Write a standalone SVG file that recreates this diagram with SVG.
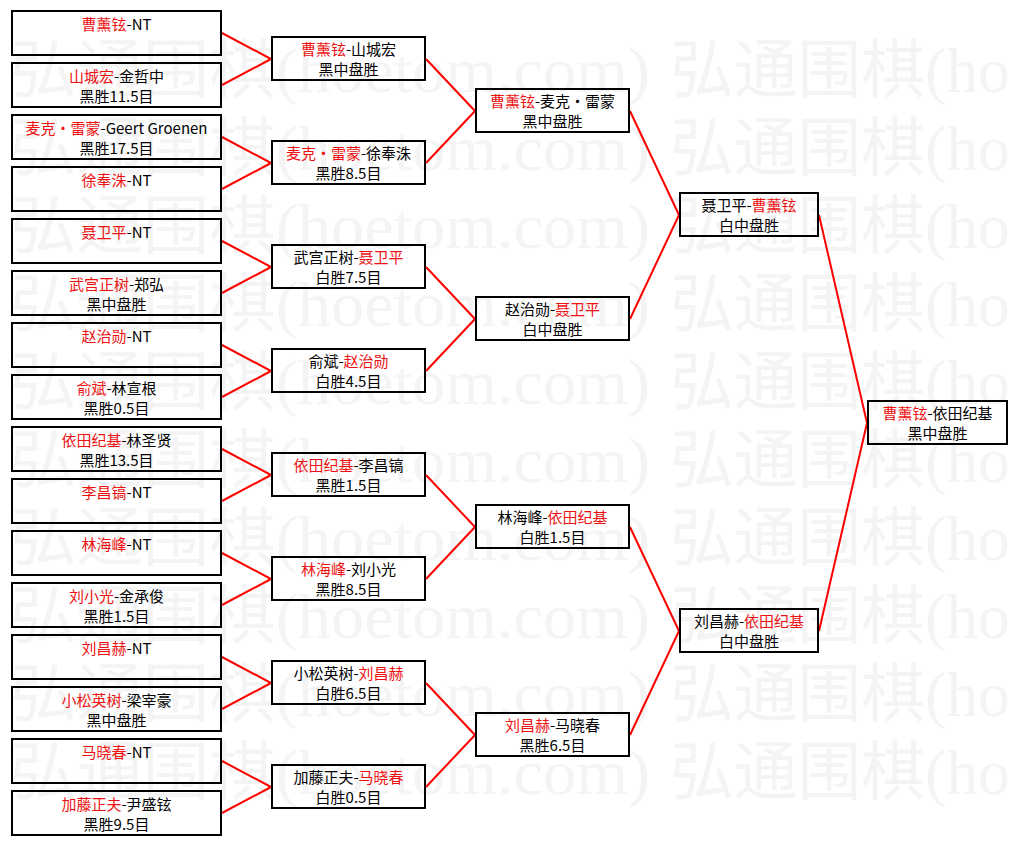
<svg xmlns="http://www.w3.org/2000/svg" width="1016" height="845" viewBox="0 0 1016 845">
<style>
.wm{font-family:"Liberation Serif","Noto Sans CJK SC",serif;font-size:64px;fill:#f4f4f4}
.b{fill:none;stroke:#000;stroke-width:2}
.t{font-family:"Noto Sans CJK SC",sans-serif;font-size:15px;fill:#000;text-anchor:middle}
.r{fill:#ee1111}
.c line{stroke:#ff0000;stroke-width:2}
</style>
<rect width="1016" height="845" fill="#fff"/>
<g id="watermark">
<text class="wm" x="10" y="92" textLength="640" lengthAdjust="spacingAndGlyphs">弘通围棋(hoetom.com)</text><text class="wm" x="670" y="92" textLength="340" lengthAdjust="spacingAndGlyphs">弘通围棋(ho</text>
<text class="wm" x="10" y="170" textLength="640" lengthAdjust="spacingAndGlyphs">弘通围棋(hoetom.com)</text><text class="wm" x="670" y="170" textLength="340" lengthAdjust="spacingAndGlyphs">弘通围棋(ho</text>
<text class="wm" x="10" y="248" textLength="640" lengthAdjust="spacingAndGlyphs">弘通围棋(hoetom.com)</text><text class="wm" x="670" y="248" textLength="340" lengthAdjust="spacingAndGlyphs">弘通围棋(ho</text>
<text class="wm" x="10" y="326" textLength="640" lengthAdjust="spacingAndGlyphs">弘通围棋(hoetom.com)</text><text class="wm" x="670" y="326" textLength="340" lengthAdjust="spacingAndGlyphs">弘通围棋(ho</text>
<text class="wm" x="10" y="404" textLength="640" lengthAdjust="spacingAndGlyphs">弘通围棋(hoetom.com)</text><text class="wm" x="670" y="404" textLength="340" lengthAdjust="spacingAndGlyphs">弘通围棋(ho</text>
<text class="wm" x="10" y="482" textLength="640" lengthAdjust="spacingAndGlyphs">弘通围棋(hoetom.com)</text><text class="wm" x="670" y="482" textLength="340" lengthAdjust="spacingAndGlyphs">弘通围棋(ho</text>
<text class="wm" x="10" y="560" textLength="640" lengthAdjust="spacingAndGlyphs">弘通围棋(hoetom.com)</text><text class="wm" x="670" y="560" textLength="340" lengthAdjust="spacingAndGlyphs">弘通围棋(ho</text>
<text class="wm" x="10" y="638" textLength="640" lengthAdjust="spacingAndGlyphs">弘通围棋(hoetom.com)</text><text class="wm" x="670" y="638" textLength="340" lengthAdjust="spacingAndGlyphs">弘通围棋(ho</text>
<text class="wm" x="10" y="716" textLength="640" lengthAdjust="spacingAndGlyphs">弘通围棋(hoetom.com)</text><text class="wm" x="670" y="716" textLength="340" lengthAdjust="spacingAndGlyphs">弘通围棋(ho</text>
<text class="wm" x="10" y="794" textLength="640" lengthAdjust="spacingAndGlyphs">弘通围棋(hoetom.com)</text><text class="wm" x="670" y="794" textLength="340" lengthAdjust="spacingAndGlyphs">弘通围棋(ho</text>
</g>
<g id="connectors" class="c">
<line x1="222" y1="33" x2="271" y2="59"/><line x1="222" y1="85" x2="271" y2="59"/>
<line x1="222" y1="137" x2="271" y2="163"/><line x1="222" y1="189" x2="271" y2="163"/>
<line x1="222" y1="241" x2="271" y2="267"/><line x1="222" y1="293" x2="271" y2="267"/>
<line x1="222" y1="345" x2="271" y2="371"/><line x1="222" y1="397" x2="271" y2="371"/>
<line x1="222" y1="449" x2="271" y2="475"/><line x1="222" y1="501" x2="271" y2="475"/>
<line x1="222" y1="553" x2="271" y2="579"/><line x1="222" y1="605" x2="271" y2="579"/>
<line x1="222" y1="657" x2="271" y2="683"/><line x1="222" y1="709" x2="271" y2="683"/>
<line x1="222" y1="761" x2="271" y2="787"/><line x1="222" y1="813" x2="271" y2="787"/>
<line x1="426" y1="59" x2="475" y2="111"/><line x1="426" y1="163" x2="475" y2="111"/>
<line x1="426" y1="267" x2="475" y2="319"/><line x1="426" y1="371" x2="475" y2="319"/>
<line x1="426" y1="475" x2="475" y2="527"/><line x1="426" y1="579" x2="475" y2="527"/>
<line x1="426" y1="683" x2="475" y2="735"/><line x1="426" y1="787" x2="475" y2="735"/>
<line x1="630" y1="111" x2="679" y2="215"/><line x1="630" y1="319" x2="679" y2="215"/>
<line x1="630" y1="527" x2="679" y2="631"/><line x1="630" y1="735" x2="679" y2="631"/>
<line x1="819" y1="215" x2="867" y2="423"/><line x1="819" y1="631" x2="867" y2="423"/>
</g>
<g id="r1-1"><rect class="b" x="12" y="11" width="209" height="44"/><text class="t" x="116.5" y="30"><tspan class="r">曹薰铉</tspan>-NT</text></g>
<g id="r1-2"><rect class="b" x="12" y="63" width="209" height="44"/><text class="t" x="116.5" y="82"><tspan class="r">山城宏</tspan>-金哲中</text><text class="t" x="116.5" y="102">黑胜11.5目</text></g>
<g id="r1-3"><rect class="b" x="12" y="115" width="209" height="44"/><text class="t" x="116.5" y="134"><tspan class="r">麦克・雷蒙</tspan>-Geert Groenen</text><text class="t" x="116.5" y="154">黑胜17.5目</text></g>
<g id="r1-4"><rect class="b" x="12" y="167" width="209" height="44"/><text class="t" x="116.5" y="186"><tspan class="r">徐奉洙</tspan>-NT</text></g>
<g id="r1-5"><rect class="b" x="12" y="219" width="209" height="44"/><text class="t" x="116.5" y="238"><tspan class="r">聂卫平</tspan>-NT</text></g>
<g id="r1-6"><rect class="b" x="12" y="271" width="209" height="44"/><text class="t" x="116.5" y="290"><tspan class="r">武宫正树</tspan>-郑弘</text><text class="t" x="116.5" y="310">黑中盘胜</text></g>
<g id="r1-7"><rect class="b" x="12" y="323" width="209" height="44"/><text class="t" x="116.5" y="342"><tspan class="r">赵治勋</tspan>-NT</text></g>
<g id="r1-8"><rect class="b" x="12" y="375" width="209" height="44"/><text class="t" x="116.5" y="394"><tspan class="r">俞斌</tspan>-林宣根</text><text class="t" x="116.5" y="414">黑胜0.5目</text></g>
<g id="r1-9"><rect class="b" x="12" y="427" width="209" height="44"/><text class="t" x="116.5" y="446"><tspan class="r">依田纪基</tspan>-林圣贤</text><text class="t" x="116.5" y="466">黑胜13.5目</text></g>
<g id="r1-10"><rect class="b" x="12" y="479" width="209" height="44"/><text class="t" x="116.5" y="498"><tspan class="r">李昌镐</tspan>-NT</text></g>
<g id="r1-11"><rect class="b" x="12" y="531" width="209" height="44"/><text class="t" x="116.5" y="550"><tspan class="r">林海峰</tspan>-NT</text></g>
<g id="r1-12"><rect class="b" x="12" y="583" width="209" height="44"/><text class="t" x="116.5" y="602"><tspan class="r">刘小光</tspan>-金承俊</text><text class="t" x="116.5" y="622">黑胜1.5目</text></g>
<g id="r1-13"><rect class="b" x="12" y="635" width="209" height="44"/><text class="t" x="116.5" y="654"><tspan class="r">刘昌赫</tspan>-NT</text></g>
<g id="r1-14"><rect class="b" x="12" y="687" width="209" height="44"/><text class="t" x="116.5" y="706"><tspan class="r">小松英树</tspan>-梁宰豪</text><text class="t" x="116.5" y="726">黑中盘胜</text></g>
<g id="r1-15"><rect class="b" x="12" y="739" width="209" height="44"/><text class="t" x="116.5" y="758"><tspan class="r">马晓春</tspan>-NT</text></g>
<g id="r1-16"><rect class="b" x="12" y="791" width="209" height="44"/><text class="t" x="116.5" y="810"><tspan class="r">加藤正夫</tspan>-尹盛铉</text><text class="t" x="116.5" y="830">黑胜9.5目</text></g>
<g id="r2-1"><rect class="b" x="272" y="37" width="153" height="43"/><text class="t" x="348.5" y="55"><tspan class="r">曹薰铉</tspan>-山城宏</text><text class="t" x="348.5" y="75">黑中盘胜</text></g>
<g id="r2-2"><rect class="b" x="272" y="141" width="153" height="43"/><text class="t" x="348.5" y="159"><tspan class="r">麦克・雷蒙</tspan>-徐奉洙</text><text class="t" x="348.5" y="179">黑胜8.5目</text></g>
<g id="r2-3"><rect class="b" x="272" y="245" width="153" height="43"/><text class="t" x="348.5" y="263">武宫正树-<tspan class="r">聂卫平</tspan></text><text class="t" x="348.5" y="283">白胜7.5目</text></g>
<g id="r2-4"><rect class="b" x="272" y="349" width="153" height="43"/><text class="t" x="348.5" y="367">俞斌-<tspan class="r">赵治勋</tspan></text><text class="t" x="348.5" y="387">白胜4.5目</text></g>
<g id="r2-5"><rect class="b" x="272" y="453" width="153" height="43"/><text class="t" x="348.5" y="471"><tspan class="r">依田纪基</tspan>-李昌镐</text><text class="t" x="348.5" y="491">黑胜1.5目</text></g>
<g id="r2-6"><rect class="b" x="272" y="557" width="153" height="43"/><text class="t" x="348.5" y="575"><tspan class="r">林海峰</tspan>-刘小光</text><text class="t" x="348.5" y="595">黑胜8.5目</text></g>
<g id="r2-7"><rect class="b" x="272" y="661" width="153" height="43"/><text class="t" x="348.5" y="679">小松英树-<tspan class="r">刘昌赫</tspan></text><text class="t" x="348.5" y="699">白胜6.5目</text></g>
<g id="r2-8"><rect class="b" x="272" y="765" width="153" height="43"/><text class="t" x="348.5" y="783">加藤正夫-<tspan class="r">马晓春</tspan></text><text class="t" x="348.5" y="803">白胜0.5目</text></g>
<g id="r3-1"><rect class="b" x="476" y="89" width="153" height="43"/><text class="t" x="552.5" y="107"><tspan class="r">曹薰铉</tspan>-麦克・雷蒙</text><text class="t" x="552.5" y="127">黑中盘胜</text></g>
<g id="r3-2"><rect class="b" x="476" y="297" width="153" height="43"/><text class="t" x="552.5" y="315">赵治勋-<tspan class="r">聂卫平</tspan></text><text class="t" x="552.5" y="335">白中盘胜</text></g>
<g id="r3-3"><rect class="b" x="476" y="505" width="153" height="43"/><text class="t" x="552.5" y="523">林海峰-<tspan class="r">依田纪基</tspan></text><text class="t" x="552.5" y="543">白胜1.5目</text></g>
<g id="r3-4"><rect class="b" x="476" y="713" width="153" height="43"/><text class="t" x="552.5" y="731"><tspan class="r">刘昌赫</tspan>-马晓春</text><text class="t" x="552.5" y="751">黑胜6.5目</text></g>
<g id="r4-1"><rect class="b" x="680" y="193" width="138" height="43"/><text class="t" x="749" y="211">聂卫平-<tspan class="r">曹薰铉</tspan></text><text class="t" x="749" y="231">白中盘胜</text></g>
<g id="r4-2"><rect class="b" x="680" y="609" width="138" height="43"/><text class="t" x="749" y="627">刘昌赫-<tspan class="r">依田纪基</tspan></text><text class="t" x="749" y="647">白中盘胜</text></g>
<g id="r5-1"><rect class="b" x="868" y="401" width="139" height="43"/><text class="t" x="937.5" y="419"><tspan class="r">曹薰铉</tspan>-依田纪基</text><text class="t" x="937.5" y="439">黑中盘胜</text></g>
</svg>
